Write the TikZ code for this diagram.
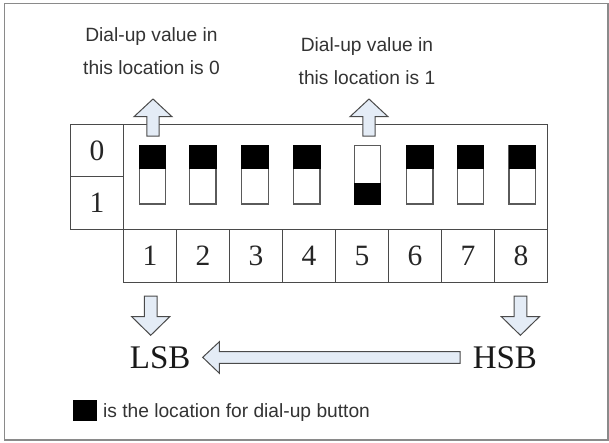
\documentclass[tikz,border=0pt]{standalone}
\usepackage{fontspec}
\setmainfont{Liberation Serif}
\newfontfamily\arialf{Liberation Sans}
\definecolor{linegray}{HTML}{4A4A4A}
\definecolor{framegray}{HTML}{8A8A8A}
\definecolor{swgray}{HTML}{5A5A5A}
\definecolor{arrowfill}{HTML}{E4ECF6}
\begin{document}
\begin{tikzpicture}[x=1pt,y=-1pt]
\tikzset{
  boxline/.style={draw=linegray, line width=1.2pt},
  cell/.style={draw=linegray, line width=1.2pt, inner sep=0pt, minimum width=53pt, minimum height=53pt, font=\fontsize{29.5}{29.5}\selectfont, text=black!85},
  zcell/.style={draw=linegray, line width=1.2pt, inner sep=0pt, minimum width=52.8pt, minimum height=52.5pt, font=\fontsize{29.5}{29.5}\selectfont, text=black!85},
  swbox/.style={draw=swgray, line width=1.3pt, fill=white},
  knob/.style={fill=black},
  blockarrow/.style={draw=linegray, line width=1pt, fill=arrowfill, line join=miter},
  sanstxt/.style={font=\arialf\fontsize{19.2}{33}\selectfont, align=center, inner sep=0pt, text=black!80},
  bigtxt/.style={font=\fontsize{33}{33}\selectfont, inner sep=0pt, text=black!90},
}
\useasboundingbox (0,0) rectangle (609,442);
\draw[framegray, line width=1.5pt] (4.5,3.5) rectangle (608,440);

% main switch area
\draw[boxline] (123.5,124.3) rectangle (547.6,229.3);
% 0 / 1 column
\node[zcell] (z0) at (97.1,150.6) {0};
\node[zcell] (z1) at (97.1,203.0) {1};
% number row
\foreach \i in {1,...,8} {
  \node[cell] (n\i) at ({123.5+53*(\i-0.5)},255.8) {\i};
}

% switches
\foreach \cx/\pos in {152.6/0,202.9/0,255/0,306.8/0,367.4/1,419.8/0,470.5/0,522.3/0} {
  \draw[swbox] (\cx-13.2,145.7) rectangle (\cx+13.2,204);
  \ifnum\pos=0
    \fill[knob] (\cx-13.8,145.1) rectangle (\cx+13.8,169);
  \else
    \fill[knob] (\cx-13.8,183.3) rectangle (\cx+13.8,204.6);
  \fi
}

% up arrows
\foreach \cx in {153,369} {
  \draw[blockarrow] (\cx,99) -- (\cx+19,116.7) -- (\cx+6.2,116.7) -- (\cx+6.2,136)
    -- (\cx-6.2,136) -- (\cx-6.2,116.7) -- (\cx-19,116.7) -- cycle;
}
% labels on top
\node[sanstxt] (lab0) at (151.5,51.6) {Dial-up value in\\this location is 0};
\node[sanstxt] (lab1) at (367,60.8) {Dial-up value in\\this location is 1};

% down arrows
\foreach \cx in {150.7,520.4} {
  \draw[blockarrow] (\cx,335.3) -- (\cx+19,316.7) -- (\cx+6.4,316.7) -- (\cx+6.4,296)
    -- (\cx-6.4,296) -- (\cx-6.4,316.7) -- (\cx-19,316.7) -- cycle;
}
% LSB / HSB
\node[bigtxt] (lsb) at (160.2,358) {LSB};
\node[bigtxt] (hsb) at (504.9,358) {HSB};
% big left arrow
\draw[blockarrow] (202.7,357.3) -- (219.4,341.7) -- (219.4,351.7) -- (460.2,351.7)
  -- (460.2,363.3) -- (219.4,363.3) -- (219.4,373.3) -- cycle;

% legend
\fill[black] (73,399.5) rectangle (97,420.5);
\node[sanstxt, anchor=west] (leg) at (102.9,412.5) {is the location for dial-up button};
\end{tikzpicture}
\end{document}
